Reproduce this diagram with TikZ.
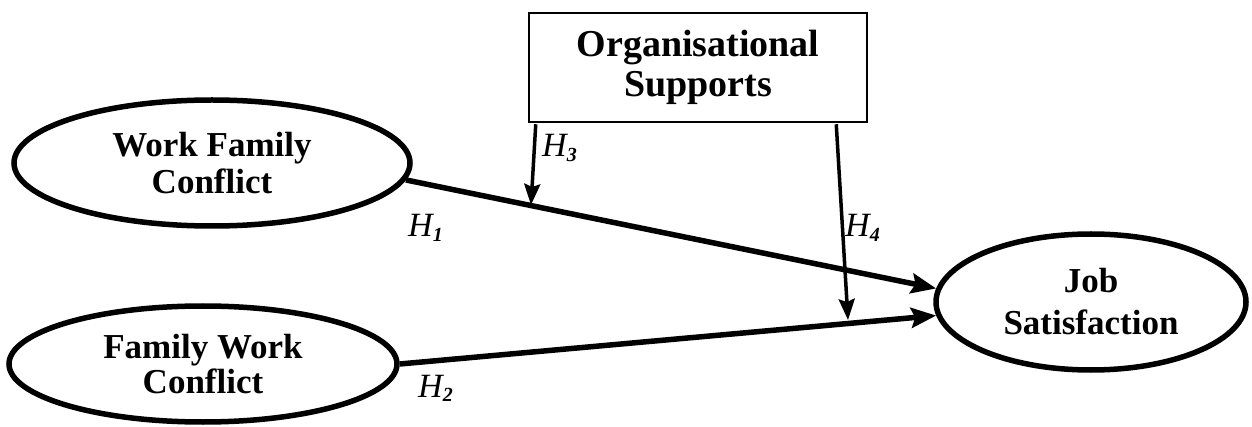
\documentclass[tikz,border=0pt]{standalone}
\usepackage{fontspec}
\setmainfont{Liberation Serif}
\usetikzlibrary{shapes.geometric,arrows.meta,calc}
\newcommand{\hyp}[1]{H\raisebox{-0.3ex}{\fontsize{20}{20}\selectfont\bfseries\itshape #1}}
\begin{document}
\begin{tikzpicture}[x=1pt,y=-1pt,
  construct/.style={draw, ellipse, line width=5.5pt, inner sep=0pt, align=center,
    font=\fontsize{35}{37}\selectfont\bfseries},
  modbox/.style={draw, rectangle, line width=2.5pt, inner sep=0pt, align=center,
    font=\fontsize{38}{40}\selectfont\bfseries},
  mainarrow/.style={line width=5.5pt, -{Stealth[length=25pt,width=20pt,inset=4pt]}},
  modarrow/.style={line width=3.5pt, -{Stealth[length=21pt,width=16pt,inset=3pt]}},
  hlabel/.style={font=\fontsize{34}{34}\selectfont\itshape, inner sep=0pt, anchor=base west}]
\useasboundingbox (0,0) rectangle (1252,427);
\node[construct, minimum width=396pt, minimum height=126pt] (wfc) at (212,163) {Work Family\\Conflict};
\node[construct, minimum width=388pt, minimum height=116pt] (fwc) at (203,364) {Family Work\\[-2pt]Conflict};
\node[construct, minimum width=310pt, minimum height=136pt] (js) at (1091,302) {Job\\[5pt]Satisfaction};
\node[modbox, minimum width=338pt, minimum height=109pt] (os) at (698,67.5) {Organisational\\Supports};
\draw[mainarrow] (wfc.-5.5) -- (js.175.6);
\draw[mainarrow] (fwc.0.6) -- (js.185.1);
\coordinate (h3end) at (531,205);
\coordinate (h4end) at (848,320);
\draw[modarrow] ($(os.south west)+(8,1)$) -- (h3end);
\draw[modarrow] ($(os.south east)+(-32,1)$) -- (h4end);
\node[hlabel] (h1) at (408,237) {\hyp{1}};
\node[hlabel] (h2) at (418,397) {\hyp{2}};
\node[hlabel] (h3) at (542,157) {\hyp{3}};
\node[hlabel] (h4) at (845,237) {\hyp{4}};
\end{tikzpicture}
\end{document}
